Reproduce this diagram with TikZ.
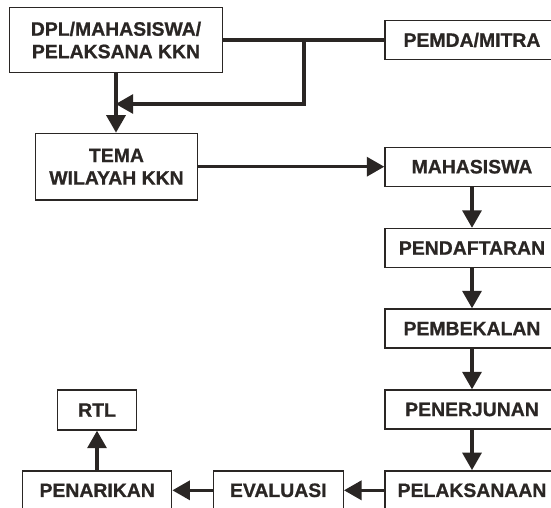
\documentclass[tikz,border=0pt]{standalone}
\usepackage{fontspec}
\setmainfont{Liberation Sans}
\newfontfamily\boxfont{Liberation Sans Bold}[FakeBold=0.8]
\usetikzlibrary{arrows.meta}
\definecolor{ink}{HTML}{2A2624}
\begin{document}
\begin{tikzpicture}[x=1pt,y=-1pt,
  box/.style={draw=ink, line width=1.4pt, fill=white, inner sep=0pt, align=center,
    text=ink, font=\fontsize{19.4}{22.5}\boxfont},
  rbox/.style={box, minimum width=174pt, minimum height=39pt},
  conn/.style={draw=ink, line width=3.3pt},
  arr/.style={conn, -{Triangle[length=17.5pt,width=19pt]}}
]
\useasboundingbox (0,0) rectangle (551,507);
\clip (0,0) rectangle (551,507);
\fill[white] (0,0) rectangle (551,507);
% nodes
\node[box, minimum width=213.4pt, minimum height=65.4pt] (dpl) at (116,40) {DPL/MAHASISWA/\\PELAKSANA KKN};
\node[rbox] (pemda) at (472,40) {PEMDA/MITRA};
\node[box, minimum width=161.6pt, minimum height=66.7pt] (tema) at (116.5,166.7) {TEMA\\WILAYAH KKN};
\node[rbox] (mhs) at (472,166.7) {MAHASISWA};
\node[rbox] (daftar) at (472,248) {PENDAFTARAN};
\node[rbox] (bekal) at (472,328.5) {PEMBEKALAN};
\node[rbox] (terjun) at (472,409.5) {PENERJUNAN};
\node[rbox] (laksana) at (472,490.3) {PELAKSANAAN};
\node[box, minimum width=130pt, minimum height=39pt] (eval) at (278.3,490.3) {EVALUASI};
\node[box, minimum width=149pt, minimum height=39pt] (tarik) at (97.2,490.3) {PENARIKAN};
\node[box, minimum width=79.4pt, minimum height=40pt] (rtl) at (97,410) {RTL};
% connectors
\coordinate (j) at (304,40);
\coordinate (m) at (116,104);
\draw[conn] (dpl.east) -- (pemda.west);
\draw[arr, shorten >=-0.3pt] (j) |- (m);
\draw[arr] (dpl.south) -- (dpl.south |- tema.north);
\draw[arr] (tema.east) -- (tema.east -| mhs.west);
\draw[arr] (mhs.south) -- (daftar.north);
\draw[arr] (daftar.south) -- (bekal.north);
\draw[arr] (bekal.south) -- (terjun.north);
\draw[arr] (terjun.south) -- (laksana.north);
\draw[arr] (laksana.west) -- (eval.east);
\draw[arr] (eval.west) -- (tarik.east);
\draw[arr] (tarik.north -| rtl.south) -- (rtl.south);
\end{tikzpicture}
\end{document}
